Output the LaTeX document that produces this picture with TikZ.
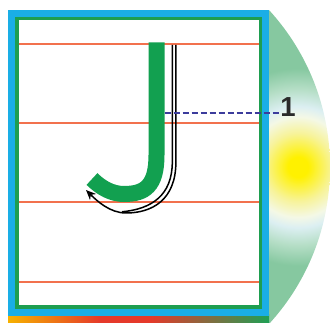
\documentclass[tikz,border=0pt]{standalone}
\usepackage{fontspec}
\newfontfamily\lblfont{Liberation Sans}
\usetikzlibrary{arrows.meta}
\definecolor{frameblue}{HTML}{1AAEE6}
\definecolor{framegreen}{HTML}{1E9E50}
\definecolor{jgreen}{HTML}{12A050}
\definecolor{rulered}{HTML}{F2714E}
\definecolor{dashblue}{HTML}{3C3C9C}
\definecolor{segg}{HTML}{86C8A0}
\definecolor{segpale}{HTML}{B5DEC6}
\definecolor{segblue}{HTML}{DCEFF2}
\definecolor{segwhite}{HTML}{F4F8E6}
\definecolor{segly}{HTML}{F7F39A}
\definecolor{segy}{HTML}{FFF100}
\definecolor{textgray}{HTML}{2A2A2A}
\definecolor{stripY}{HTML}{F6B100}
\definecolor{stripR}{HTML}{E5392A}
\definecolor{stripG}{HTML}{1FA055}
\pgfdeclareradialshading{sunglow}{\pgfpoint{0bp}{0bp}}{color(0bp)=(segy); color(1.5bp)=(segy); color(5bp)=(segly); color(7.4bp)=(segwhite); color(8.9bp)=(segblue); color(11.5bp)=(segpale); color(14.5bp)=(segg); color(50bp)=(segg)}
\tikzset{
  rulestyle/.style={rulered, line width=1.8pt},
  jstroke/.style={jgreen, line width=16pt},
  trace/.style={black, line width=1.5pt},
  dashline/.style={dashblue, line width=2pt, dash pattern=on 6pt off 3pt},
  lbl/.style={inner sep=0pt, text=textgray, font=\lblfont\bfseries\fontsize{27.5}{30}\selectfont}
}
\begin{document}
\begin{tikzpicture}[x=1pt,y=-1pt]
\useasboundingbox (0,0) rectangle (330,323);
% side segment with glow
\begin{scope}
  \clip (269,0) rectangle (331,324);
  \clip (97.5,167) circle[radius=232.5pt];
  \shade[shading=sunglow] (298,167) circle[radius=170pt];
\end{scope}
% bottom coloured strip
\shade[left color=stripY, right color=stripR] (8,315) rectangle (100.5,323);
\fill[stripR] (100,315) rectangle (150.5,323);
\shade[left color=stripR, right color=stripG] (150,315) rectangle (269,323);
% frame
\fill[frameblue] (8,10) rectangle (269,316);
\fill[framegreen] (15,17) rectangle (262,309);
\fill[white] (18.5,20.5) rectangle (259,305.5);
% ruled lines
\foreach \yy in {44,123,202,282} \draw[rulestyle] (18.5,\yy) -- (259,\yy);
% letter J
\draw[jstroke] (156.5,42.3) -- (156.5,155) .. controls (156.5,186) and (145,194) .. (124,194) .. controls (112,194) and (101,188) .. (92,179);
% stroke direction trace
\draw[trace] (172.3,45) -- (172.3,162) .. controls (172.3,195) and (152,209) .. (122,211.8);
\draw[trace, -{Stealth[length=10pt,width=8.5pt]}] (175.9,45) -- (175.9,162) .. controls (175.9,200) and (152,213) .. (126,213) .. controls (110,213) and (97,201) .. (86,190);
% label
\coordinate (stemR) at (164.5,112.7);
\node[lbl] (lbl) at (288,107) {1};
\draw[dashline] (stemR) -- (stemR -| lbl.west);
\end{tikzpicture}
\end{document}
